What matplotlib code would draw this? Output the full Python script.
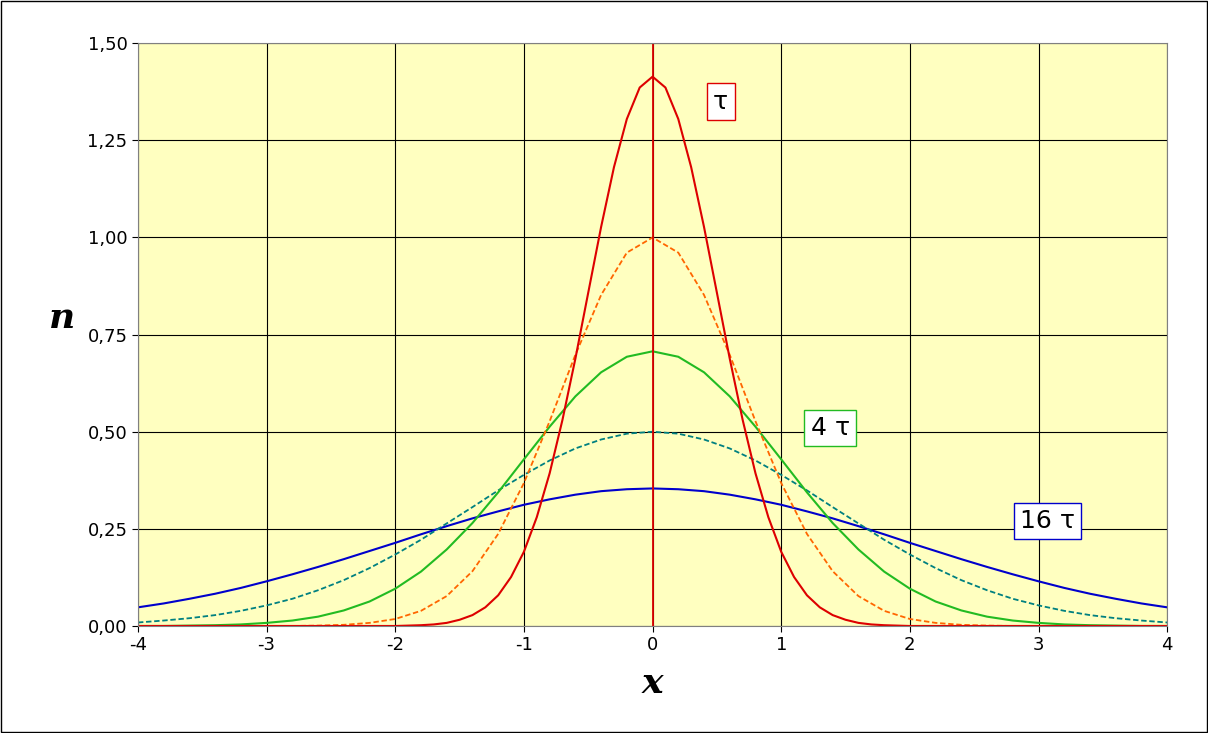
import numpy as np
import matplotlib.pyplot as plt
from matplotlib.patches import Rectangle

plt.rcParams['axes.unicode_minus'] = False

x = np.round(np.arange(-4, 4.01, 0.2), 1)
x_red = np.round(np.arange(-4, 4.01, 0.1), 1)

half_red = [1.414, 1.386, 1.305, 1.181, 1.027, 0.858, 0.688, 0.531, 0.393, 0.280, 0.191,
            0.126, 0.079, 0.048, 0.028, 0.016, 0.008, 0.004, 0.002, 0.001, 0.000] + [0.000] * 20
half_orange = [1.000, 0.961, 0.852, 0.698, 0.527, 0.368, 0.237, 0.141, 0.077, 0.039, 0.018,
               0.008, 0.003, 0.001, 0.000, 0.000, 0.000, 0.000, 0.000, 0.000, 0.000]
half_green = [0.707, 0.693, 0.653, 0.591, 0.513, 0.429, 0.344, 0.265, 0.197, 0.140, 0.096,
              0.063, 0.040, 0.024, 0.014, 0.008, 0.004, 0.002, 0.001, 0.000, 0.000]
half_teal = [0.500, 0.495, 0.480, 0.457, 0.426, 0.389, 0.349, 0.306, 0.264, 0.222, 0.184,
             0.149, 0.118, 0.092, 0.070, 0.053, 0.039, 0.028, 0.020, 0.014, 0.009]
half_blue = [0.354, 0.352, 0.347, 0.338, 0.326, 0.312, 0.295, 0.277, 0.257, 0.236, 0.214,
             0.193, 0.172, 0.152, 0.133, 0.115, 0.098, 0.083, 0.070, 0.058, 0.048]

def full(h):
    # values read for x >= 0, curve is symmetric
    return np.array(h[::-1] + h[1:])

fig = plt.figure(figsize=(12.08, 7.33), dpi=100)
fig.patches.append(Rectangle((0.001, 0.001), 0.998, 0.997, transform=fig.transFigure,
                             fill=False, edgecolor='black', linewidth=1))
ax = fig.add_axes([0.1142, 0.146, 0.852, 0.795])
ax.set_facecolor('#FFFFC0')

ax.plot(x, full(half_blue), color='#0000CC', lw=1.5)
ax.plot(x, full(half_teal), color='#008080', lw=1.3, ls=(0, (3, 1.5)))
ax.plot(x, full(half_green), color='#22BB22', lw=1.5)
ax.plot(x, full(half_orange), color='#FF6600', lw=1.3, ls=(0, (3, 1.5)))
ax.plot(x_red, full(half_red), color='#DD0000', lw=1.5)
ax.axvline(0, color='#DD0000', lw=1.3)

ax.set_xlim(-4, 4)
ax.set_ylim(0, 1.5)
ax.set_xticks(range(-4, 5))
ax.set_yticks(np.arange(0, 1.51, 0.25))
ax.set_yticklabels([f"{v:.2f}".replace('.', ',') for v in np.arange(0, 1.51, 0.25)])
ax.tick_params(labelsize=13, length=4)
ax.grid(True, color='black', lw=0.8)
for s in ax.spines.values():
    s.set_color('#808080')

ax.set_xlabel('x', fontsize=26, fontstyle='italic', fontweight='bold', family='DejaVu Serif', labelpad=8)
ax.set_ylabel('n', fontsize=26, fontstyle='italic', fontweight='bold', family='DejaVu Serif', rotation=0, labelpad=18)

ax.text(0.53, 1.35, 'τ', fontsize=18, ha='center', va='center',
        bbox=dict(facecolor='white', edgecolor='#DD0000', boxstyle='square,pad=0.25'))
ax.text(1.38, 0.51, '4 τ', fontsize=18, ha='center', va='center',
        bbox=dict(facecolor='white', edgecolor='#22BB22', boxstyle='square,pad=0.25'))
ax.text(3.07, 0.27, '16 τ', fontsize=18, ha='center', va='center',
        bbox=dict(facecolor='white', edgecolor='#0000CC', boxstyle='square,pad=0.25'))

plt.savefig('out.png', dpi=100)
